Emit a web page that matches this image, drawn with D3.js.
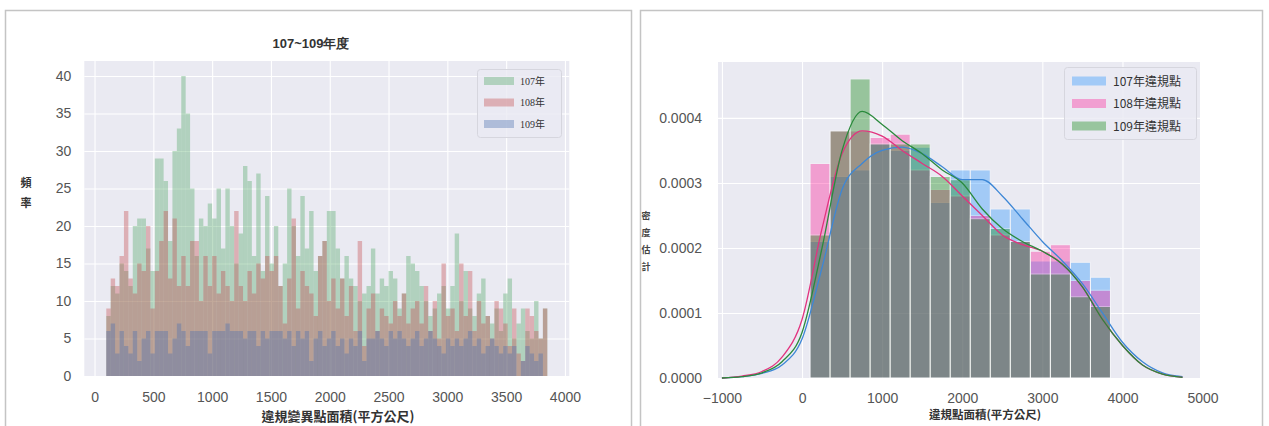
<!DOCTYPE html>
<html>
<head>
<meta charset="utf-8">
<script src="https://cdn.jsdelivr.net/npm/d3@7"></script>
<style>
  body { margin: 0; background: #fff; }
  svg { display: block; }
  text { font-family: "Liberation Sans", Arial, sans-serif; }
</style>
</head>
<body>
<svg id="chart" width="1269" height="426"></svg>
<script>
// ---- left panel: 100 bins from 100 to 3850 ----
const leftYears = ["107年", "108年", "109年"]
const leftBinStart = 100
const leftBinWidth = 37.5
const counts107 = [
  8, 12, 11, 15, 14, 12, 20, 21, 21, 17,
  14, 29, 29, 26, 18, 30, 33, 40, 35, 25,
  16, 21, 20, 23, 21, 25, 17, 25, 20, 15,
  19, 28, 26, 16, 27, 14, 24, 15, 20, 12,
  15, 25, 20, 16, 24, 17, 22, 14, 16, 18,
  22, 22, 17, 13, 16, 13, 12, 10, 11, 12,
  17, 11, 13, 12, 14, 13, 9, 11, 16, 15,
  14, 12, 10, 8, 9, 11, 12, 9, 12, 19,
  10, 14, 9, 8, 11, 13, 8, 7, 9, 6,
  11, 13, 5, 7, 9, 6, 5, 10, 5, 9]
const counts108 = [
  9, 13, 12, 16, 22, 13, 11, 15, 14, 20,
  9, 14, 18, 22, 13, 21, 12, 16, 12, 18,
  18, 10, 16, 12, 16, 11, 14, 12, 10, 22,
  12, 10, 14, 11, 15, 13, 16, 14, 16, 12,
  7, 13, 21, 9, 14, 12, 11, 8, 16, 18,
  10, 13, 9, 13, 8, 12, 6, 18, 4, 9,
  11, 6, 9, 8, 7, 10, 8, 11, 7, 9,
  10, 7, 12, 6, 10, 5, 15, 8, 9, 6,
  15, 8, 14, 6, 10, 7, 8, 5, 10, 9,
  7, 4, 9, 3, 2, 9, 8, 6, 5, 9]
const counts109 = [
  6, 7, 3, 6, 4, 3, 6, 2, 5, 6,
  3, 6, 6, 6, 3, 5, 7, 6, 4, 6,
  6, 6, 6, 3, 6, 6, 6, 7, 6, 6,
  6, 5, 6, 6, 4, 6, 5, 6, 6, 6,
  5, 6, 4, 6, 5, 6, 2, 5, 6, 4,
  5, 6, 4, 5, 3, 5, 4, 6, 2, 5,
  5, 6, 5, 4, 6, 5, 6, 5, 4, 5,
  6, 4, 5, 6, 5, 4, 3, 5, 4, 5,
  4, 5, 6, 4, 5, 3, 4, 5, 4, 3,
  4, 3, 4, 0, 2, 4, 3, 2, 3, 0]
const leftXTicks = [0, 500, 1000, 1500, 2000, 2500, 3000, 3500, 4000]
const leftYTicks = [0, 5, 10, 15, 20, 25, 30, 35, 40]

// ---- right panel: density histograms, 15 bins of 250 from 100 ----
const rightLabels = ["107年違規點", "108年違規點", "109年違規點"]
const rightBinStart = 100
const rightBinWidth = 250
const dens107 = [0.00021, 0.00031, 0.00032, 0.00036, 0.00035, 0.000355, 0.00027, 0.00032, 0.00032, 0.00026, 0.00026, 0.00018, 0.00018, 0.000178, 0.000155]
const dens108 = [0.00033, 0.00038, 0.00038, 0.00037, 0.000375, 0.00032, 0.00029, 0.00028, 0.00025, 0.00022, 0.00021, 0.000195, 0.000205, 0.00015, 0.000135]
const dens109 = [0.00022, 0.00038, 0.00046, 0.00036, 0.00036, 0.00036, 0.00031, 0.000305, 0.000245, 0.00023, 0.00021, 0.00016, 0.00016, 0.000125, 0.00011]
// kde curves
const kdeX = [-1000, -750, -500, -250, 0, 250, 500, 750, 1000, 1250, 1500, 1750, 2000, 2250, 2500, 2750, 3000, 3250, 3500, 3750, 4000, 4250, 4500, 4750]
const kde107 = [0, 0.000002, 0.000007, 0.00002, 0.00006, 0.00017, 0.00029, 0.00033, 0.00035, 0.000355, 0.000345, 0.000325, 0.000305, 0.000305, 0.00028, 0.000245, 0.00021, 0.00018, 0.000145, 0.0001, 0.000055, 0.000025, 0.000008, 0.000002]
const kde108 = [0, 0.000003, 0.00001, 0.000032, 0.00009, 0.00023, 0.000345, 0.00038, 0.000372, 0.00035, 0.00033, 0.00031, 0.00028, 0.00025, 0.00022, 0.000205, 0.000195, 0.000175, 0.00014, 0.00009, 0.00005, 0.00002, 0.000006, 0.000001]
const kde109 = [0, 0.000002, 0.000008, 0.000025, 0.00007, 0.0002, 0.00035, 0.00041, 0.00039, 0.000365, 0.000345, 0.00032, 0.0003, 0.00026, 0.00023, 0.00021, 0.000195, 0.000175, 0.00014, 0.00009, 0.00005, 0.00002, 0.000006, 0.000001]
const rightXTicks = [-1000, 0, 1000, 2000, 3000, 4000, 5000]
const rightYTicks = [0, 0.0001, 0.0002, 0.0003, 0.0004]

const svg = d3.select('#chart')

// panel frames
svg.append('rect').attr('x', 5.5).attr('y', 10.5).attr('width', 626).attr('height', 440)
  .attr('fill', '#fff').attr('stroke', '#c4c4c4').attr('stroke-width', 1.5)
svg.append('rect').attr('x', 640.5).attr('y', 10.5).attr('width', 622).attr('height', 440)
  .attr('fill', '#fff').attr('stroke', '#c4c4c4').attr('stroke-width', 1.5)

function drawFrame(x, y, xTicks, yTicks, xPad, yPad, xFormat, yFormat) {
  const [x0, x1] = x.range()
  const [y0, y1] = y.range()
  svg.append('rect').attr('x', x0).attr('y', y1).attr('width', x1 - x0).attr('height', y0 - y1)
    .attr('fill', '#eaeaf2')

  const gy = svg.append('g').attr('transform', `translate(${x0},0)`)
    .call(d3.axisLeft(y).tickValues(yTicks).tickSize(-(x1 - x0)).tickPadding(yPad).tickFormat(yFormat))
  const gx = svg.append('g').attr('transform', `translate(0,${y0})`)
    .call(d3.axisBottom(x).tickValues(xTicks).tickSize(-(y0 - y1)).tickPadding(xPad).tickFormat(xFormat))
  for (const g of [gx, gy]) {
    g.select('.domain').remove()
    g.selectAll('line').attr('stroke', '#fff').attr('stroke-width', 1.1)
    g.selectAll('text').attr('fill', '#555').style('font-size', '14px')
  }
  return [gx, gy]
}

// ================= left =================
const lx = d3.scaleLinear().domain([-87, 4037]).range([84.3, 569.3])
const ly = d3.scaleLinear().domain([0, 42]).range([376, 61])
drawFrame(lx, ly, leftXTicks, leftYTicks, 16, 13, d3.format('d'), d3.format('d'))

const leftColors = ['#55a868', '#c44e52', '#4c72b0']
const leftSeries = [counts107, counts108, counts109]
leftSeries.forEach((counts, k) => {
  svg.append('g').selectAll('rect')
    .data(counts)
    .join('rect')
    .attr('x', (d, i) => lx(leftBinStart + i * leftBinWidth))
    .attr('width', (d, i) => lx(leftBinStart + (i + 1) * leftBinWidth) - lx(leftBinStart + i * leftBinWidth))
    .attr('y', d => ly(d))
    .attr('height', d => ly(0) - ly(d))
    .attr('fill', leftColors[k])
    .attr('fill-opacity', 0.38)
})

svg.append('text').attr('x', 311).attr('y', 48).attr('text-anchor', 'middle')
  .style('font-size', '13px').style('font-weight', 'bold').attr('fill', '#333')
  .text('107~109年度')
svg.append('text').attr('x', 338).attr('y', 421).attr('text-anchor', 'middle')
  .style('font-family', '"Noto Sans CJK TC"').style('font-size', '13px').style('font-weight', 'bold')
  .attr('fill', '#333').text('違規變異點面積(平方公尺)')
svg.append('g').selectAll('text').data(['頻', '率']).join('text')
  .attr('x', 26).attr('y', (d, i) => 187 + i * 20).attr('text-anchor', 'middle')
  .style('font-family', '"Noto Sans CJK TC"').style('font-size', '11px').style('font-weight', 'bold')
  .attr('fill', '#333').text(d => d)

// left legend
const ll = svg.append('g')
ll.append('rect').attr('x', 477.5).attr('y', 69.5).attr('width', 84).attr('height', 68).attr('rx', 3)
  .attr('fill', '#eaeaf2').attr('fill-opacity', 0.8).attr('stroke', '#d6d6de')
leftYears.forEach((name, k) => {
  const cy = 81 + k * 21.5
  ll.append('rect').attr('x', 484).attr('y', cy - 4).attr('width', 30).attr('height', 8)
    .attr('fill', leftColors[k]).attr('fill-opacity', 0.38)
  ll.append('text').attr('x', 520).attr('y', cy + 3.5)
    .style('font-family', '"Liberation Serif", "Noto Sans CJK TC"').style('font-size', '10px')
    .attr('fill', '#333').text(name)
})

// ================= right =================
const rx = d3.scaleLinear().domain([-1049, 4968]).range([718, 1200])
const ry = d3.scaleLinear().domain([0, 0.000486]).range([378, 62])
drawFrame(rx, ry, rightXTicks, rightYTicks, 15, 16, d3.format('d'), d3.format('.4f'))

const rightColors = ['#1e90ff', '#ff1493', '#008000']
const lineColors = ['#3d87d6', '#e2337f', '#2a8a3c']
const rightSeries = [dens107, dens108, dens109]
rightSeries.forEach((dens, k) => {
  svg.append('g').selectAll('rect')
    .data(dens)
    .join('rect')
    .attr('x', (d, i) => rx(rightBinStart + i * rightBinWidth))
    .attr('width', (d, i) => rx(rightBinStart + (i + 1) * rightBinWidth) - rx(rightBinStart + i * rightBinWidth))
    .attr('y', d => ry(d))
    .attr('height', d => ry(0) - ry(d))
    .attr('fill', rightColors[k])
    .attr('stroke', '#fff')
    .attr('stroke-width', 1)
    .attr('opacity', 0.35)
})

const kdeSeries = [kde107, kde108, kde109]
const line = d3.line().x(d => rx(d[0])).y(d => ry(d[1])).curve(d3.curveMonotoneX)
kdeSeries.forEach((vals, k) => {
  svg.append('path')
    .datum(kdeX.map((x, i) => [x, vals[i]]))
    .attr('d', line)
    .attr('fill', 'none')
    .attr('stroke', lineColors[k])
    .attr('stroke-width', 1.3)
})

svg.append('text').attr('x', 985).attr('y', 419).attr('text-anchor', 'middle')
  .style('font-family', '"Noto Sans CJK TC"').style('font-size', '11.5px').style('font-weight', 'bold')
  .attr('fill', '#333').text('違規點面積(平方公尺)')
svg.append('g').selectAll('text').data(['密', '度', '估', '計']).join('text')
  .attr('x', 646).attr('y', (d, i) => 219 + i * 17).attr('text-anchor', 'middle')
  .style('font-family', '"Noto Sans CJK TC"').style('font-size', '9px').style('font-weight', 'bold')
  .attr('fill', '#444').text(d => d)

// right legend
const rl = svg.append('g')
rl.append('rect').attr('x', 1064.5).attr('y', 67.5).attr('width', 132).attr('height', 72).attr('rx', 3)
  .attr('fill', '#eaeaf2').attr('fill-opacity', 0.8).attr('stroke', '#d6d6de')
rightLabels.forEach((name, k) => {
  const cy = 81 + k * 22.5
  rl.append('rect').attr('x', 1072).attr('y', cy - 4.5).attr('width', 34).attr('height', 9)
    .attr('fill', rightColors[k]).attr('opacity', 0.35)
  rl.append('text').attr('x', 1113).attr('y', cy + 4.5)
    .style('font-family', '"Noto Sans CJK TC"').style('font-size', '12px')
    .attr('fill', '#333').text(name)
})
</script>
</body>
</html>
